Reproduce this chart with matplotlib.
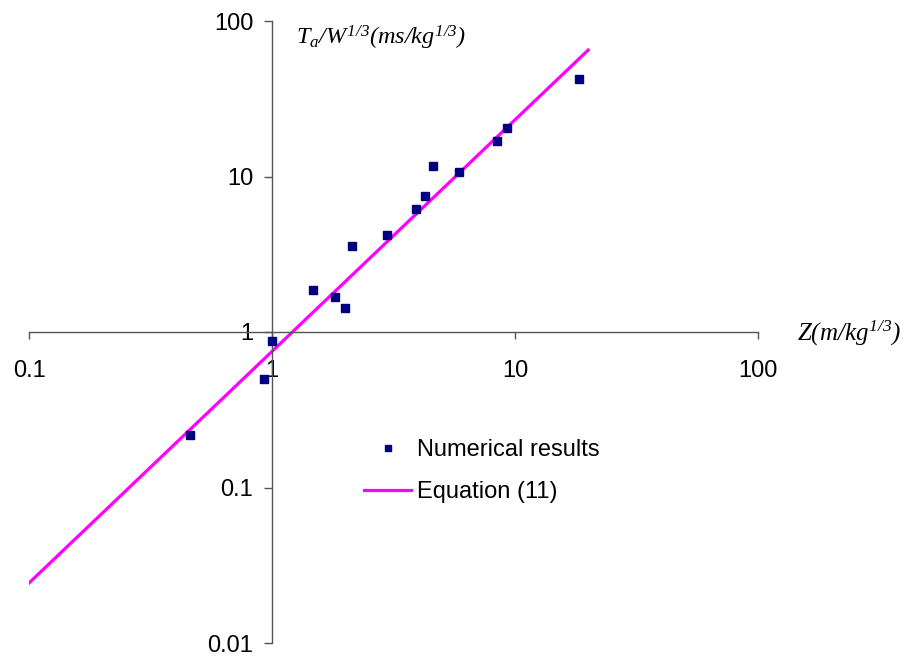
import matplotlib
matplotlib.use("Agg")
import matplotlib.pyplot as plt

plt.rcParams["font.family"] = ["Liberation Sans", "DejaVu Sans"]
plt.rcParams["mathtext.fontset"] = "custom"
plt.rcParams["mathtext.it"] = "Liberation Serif:italic"
plt.rcParams["mathtext.rm"] = "Liberation Serif:italic"

# numerical results (Z, Ta/W^1/3)
z_num = [0.461, 0.924, 0.997, 1.48, 1.82, 1.99, 2.13, 2.97, 3.93, 4.27,
         4.60, 5.87, 8.46, 9.25, 18.3]
t_num = [0.219, 0.496, 0.875, 1.87, 1.68, 1.43, 3.59, 4.22, 6.21, 7.49,
         11.6, 10.7, 17.0, 20.5, 42.6]

# equation (11), end points of the fitted line
z_eq = [0.1, 20.0]
t_eq = [0.0243, 65.0]

xticks = [0.1, 1, 10, 100]
yticks = [0.01, 0.1, 1, 10, 100]
tick_labels_x = ["0.1", "1", "10", "100"]
tick_labels_y = ["0.01", "0.1", "1", "10", "100"]

fig = plt.figure(figsize=(9.12, 6.6), dpi=100)
ax = fig.add_axes([29 / 912, 17 / 660, 729 / 912, 622 / 660])

ax.plot(z_eq, t_eq, color="#ff00ff", lw=2.3, label="Equation (11)", zorder=2)
ax.plot(z_num, t_num, ls="none", marker="s", ms=5.2, color="#000080",
        label="Numerical results", zorder=3)

ax.set_xscale("log")
ax.set_yscale("log")
ax.set_xlim(0.1, 100)
ax.set_ylim(0.01, 100)

for side in ("top", "right"):
    ax.spines[side].set_visible(False)
ax.spines["left"].set_position(("data", 1))
ax.spines["bottom"].set_position(("data", 1))
for side in ("left", "bottom"):
    ax.spines[side].set_color("#555555")
    ax.spines[side].set_linewidth(1.0)

ax.set_xticks(xticks, tick_labels_x)
ax.set_yticks(yticks, tick_labels_y)
ax.minorticks_off()
ax.tick_params(axis="x", direction="out", length=5, width=1, color="#555555",
               pad=15, labelsize=17)
ax.tick_params(axis="y", direction="out", length=5.5, width=1, color="#555555",
               pad=8, labelsize=17)

fig.text(296 / 912, 1 - 38 / 660, r"$T_a/W^{1/3}(ms/kg^{1/3})$",
         fontsize=17.5, ha="left", va="center")
fig.text(797 / 912, 1 - 333 / 660, r"$Z(m/kg^{1/3})$",
         fontsize=18, ha="left", va="center")

handles, labels = ax.get_legend_handles_labels()
ax.legend(handles[::-1], labels[::-1], loc="upper left",
          bbox_to_anchor=(364 / 912, 1 - 439 / 660),
          bbox_transform=fig.transFigure, frameon=False, fontsize=17,
          borderpad=0, borderaxespad=0, handlelength=2.0, handletextpad=0.25,
          labelspacing=0.85, markerscale=0.8)

fig.savefig("out.png", dpi=100)
